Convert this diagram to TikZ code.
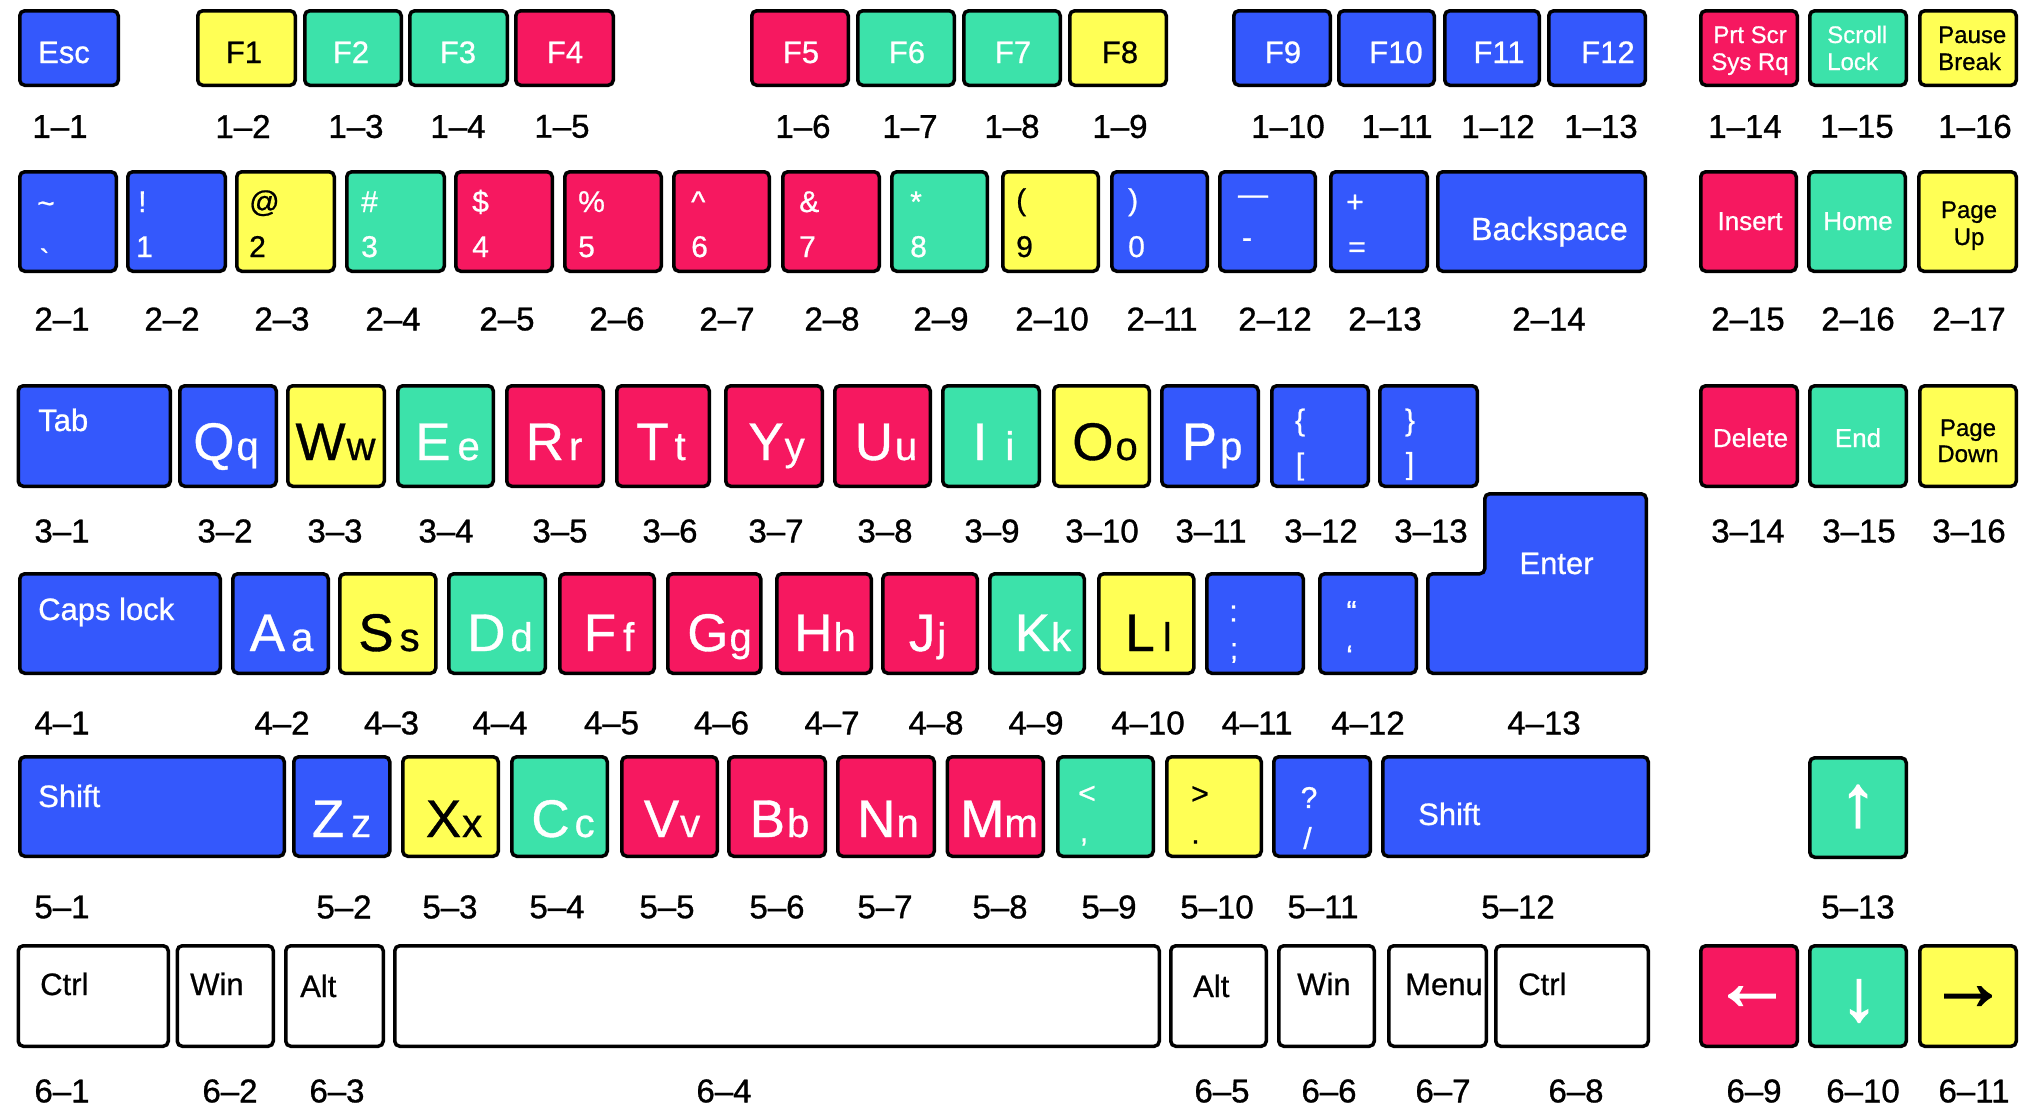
\documentclass[tikz,border=0pt]{standalone}
\usepackage{fontspec}
\setmainfont{Liberation Sans}[FakeBold=0.7]
\newfontfamily\rawf{Liberation Sans}[Ligatures=TeXOff,FakeBold=0.7]
\newfontfamily\labf{Liberation Sans}[FakeBold=0.9]
\newfontfamily\arrf{Liberation Sans}[FakeBold=2.2]
\definecolor{kblue}{RGB}{52,88,252}
\definecolor{kyellow}{RGB}{255,255,85}
\definecolor{kgreen}{RGB}{60,226,170}
\definecolor{kred}{RGB}{246,24,96}
\tikzset{
  keybox/.style={draw=black,line width=3.5pt,rounded corners=5pt,inner sep=0pt},
  txt/.style={inner sep=0pt,font=\fontsize{31}{31}\selectfont},
  wt/.style={text=white},
  bk/.style={text=black},
  sym/.style={font=\fontsize{30}{30}\selectfont},
  mid/.style={font=\fontsize{26}{26}\selectfont},
  sml/.style={font=\fontsize{24}{24}\selectfont},
  varrow/.style={font=\arrf\fontsize{72}{72}\selectfont},
  harrow/.style={font=\arrf\fontsize{78}{78}\selectfont},
  lab/.style={inner sep=0pt,anchor=center,font=\labf\fontsize{33}{33}\selectfont,text=black},
}
\newcommand\kbkey[6]{%
  \pgfmathsetmacro\kbw{#3-#2-3.5}%
  \pgfmathsetmacro\kbh{#5-#4-3.5}%
  \pgfmathsetmacro\kbx{(#2+#3)/2}%
  \pgfmathsetmacro\kby{(#4+#5)/2}%
  \node[keybox,fill=#6,minimum width=\kbw pt,minimum height=\kbh pt] (#1) at (\kbx,\kby) {};}
\newcommand\kbt[6]{\node[txt,anchor=#4,#5] (#1) at (#2,#3) {#6};}
\newcommand\kbl[4]{\node[lab] (#1) at (#2,#3) {#4};}
\newcommand\kbletter[7]{\node[txt,anchor=base,#7] (#1) at (#2,#3) {\fontsize{53}{53}\selectfont #4\kern#5pt\fontsize{40}{40}\selectfont #6};}
\begin{document}
\begin{tikzpicture}[x=1pt,y=-1pt]
\fill[white] (0,0) rectangle (2035,1117);
\useasboundingbox (0,0) rectangle (2035,1117);
% ---------- row 1
\kbkey{kA1}{18}{120}{9}{87}{kblue}\kbt{tA1}{64}{63}{base}{wt}{Esc}
\kbkey{kA2}{196}{297}{9}{87}{kyellow}\kbt{tA2}{244}{63}{base}{bk}{F1}
\kbkey{kA3}{303}{403}{9}{87}{kgreen}\kbt{tA3}{351}{63}{base}{wt}{F2}
\kbkey{kA4}{408}{509}{9}{87}{kgreen}\kbt{tA4}{458}{63}{base}{wt}{F3}
\kbkey{kA5}{514}{615}{9}{87}{kred}\kbt{tA5}{565}{63}{base}{wt}{F4}
\kbkey{kA6}{750}{850}{9}{87}{kred}\kbt{tA6}{801}{63}{base}{wt}{F5}
\kbkey{kA7}{856}{956}{9}{87}{kgreen}\kbt{tA7}{907}{63}{base}{wt}{F6}
\kbkey{kA8}{962}{1062}{9}{87}{kgreen}\kbt{tA8}{1013}{63}{base}{wt}{F7}
\kbkey{kA9}{1068}{1168}{9}{87}{kyellow}\kbt{tA9}{1120}{63}{base}{bk}{F8}
\kbkey{kA10}{1232}{1332}{9}{87}{kblue}\kbt{tA10}{1283}{63}{base}{wt}{F9}
\kbkey{kA11}{1337}{1436}{9}{87}{kblue}\kbt{tA11}{1396}{63}{base}{wt}{F10}
\kbkey{kA12}{1443}{1541}{9}{87}{kblue}\kbt{tA12}{1499}{63}{base}{wt}{F11}
\kbkey{kA13}{1547}{1647}{9}{87}{kblue}\kbt{tA13}{1608}{63}{base}{wt}{F12}
\kbkey{kA14}{1699}{1799}{9}{87}{kred}
\kbt{tA14a}{1750}{43}{base}{wt,sml}{Prt Scr}\kbt{tA14b}{1750}{70}{base}{wt,sml}{Sys Rq}
\kbkey{kA15}{1808}{1908}{9}{87}{kgreen}
\kbt{tA15a}{1827}{43}{base west}{wt,sml}{Scroll}\kbt{tA15b}{1827}{70}{base west}{wt,sml}{Lock}
\kbkey{kA16}{1918}{2018}{9}{87}{kyellow}
\kbt{tA16a}{1938}{43}{base west}{bk,sml}{Pause}\kbt{tA16b}{1938}{70}{base west}{bk,sml}{Break}
\kbl{lA1}{60}{126.5}{1–1}\kbl{lA2}{243}{126.5}{1–2}\kbl{lA3}{356}{126.5}{1–3}
\kbl{lA4}{458}{126.5}{1–4}\kbl{lA5}{562}{126.5}{1–5}\kbl{lA6}{803}{126.5}{1–6}
\kbl{lA7}{910}{126.5}{1–7}\kbl{lA8}{1012}{126.5}{1–8}\kbl{lA9}{1120}{126.5}{1–9}
\kbl{lA10}{1288}{126.5}{1–10}\kbl{lA11}{1397}{126.5}{1–11}\kbl{lA12}{1498}{126.5}{1–12}
\kbl{lA13}{1601}{126.5}{1–13}\kbl{lA14}{1745}{126.5}{1–14}\kbl{lA15}{1857}{126.5}{1–15}
\kbl{lA16}{1975}{126.5}{1–16}
% ---------- row 2
\kbkey{kB1}{18}{118}{170}{273}{kblue}
\node[txt,wt,sym,anchor=center] (tB1a) at (46,207.5) {\textasciitilde};
\node[txt,wt,sym,anchor=center] (tB1b) at (44.5,259.5) {\rawf\char"60};
\kbkey{kB2}{126}{227}{170}{273}{kblue}\kbt{tB2a}{138}{212}{base west}{wt,sym}{!}\kbt{tB2b}{136}{257}{base west}{wt,sym}{1}
\kbkey{kB3}{235}{336}{170}{273}{kyellow}\kbt{tB3a}{249}{212}{base west}{bk,sym}{@}\kbt{tB3b}{249}{257}{base west}{bk,sym}{2}
\kbkey{kB4}{345}{446}{170}{273}{kgreen}\kbt{tB4a}{361}{212}{base west}{wt,sym}{\#}\kbt{tB4b}{361}{257}{base west}{wt,sym}{3}
\kbkey{kB5}{454}{554}{170}{273}{kred}\kbt{tB5a}{472}{212}{base west}{wt,sym}{\$}\kbt{tB5b}{472}{257}{base west}{wt,sym}{4}
\kbkey{kB6}{563}{663}{170}{273}{kred}\kbt{tB6a}{578}{212}{base west}{wt,sym}{\%}\kbt{tB6b}{578}{257}{base west}{wt,sym}{5}
\kbkey{kB7}{672}{771}{170}{273}{kred}\kbt{tB7a}{691}{212}{base west}{wt,sym}{\textasciicircum}\kbt{tB7b}{691}{257}{base west}{wt,sym}{6}
\kbkey{kB8}{781}{881}{170}{273}{kred}\kbt{tB8a}{799}{212}{base west}{wt,sym}{\&}\kbt{tB8b}{799}{257}{base west}{wt,sym}{7}
\kbkey{kB9}{890}{989}{170}{273}{kgreen}\kbt{tB9a}{910}{212}{base west}{wt,sym}{*}\kbt{tB9b}{910}{257}{base west}{wt,sym}{8}
\kbkey{kB10}{1001}{1100}{170}{273}{kyellow}\kbt{tB10a}{1016}{210}{base west}{bk,sym}{(}\kbt{tB10b}{1016}{257}{base west}{bk,sym}{9}
\kbkey{kB11}{1110}{1209}{170}{273}{kblue}\kbt{tB11a}{1128}{210}{base west}{wt,sym}{)}\kbt{tB11b}{1128}{257}{base west}{wt,sym}{0}
\kbkey{kB12}{1218}{1317}{170}{273}{kblue}
\node[txt,wt,sym,anchor=center] (tB12a) at (1253,200) {—};
\node[txt,wt,sym,anchor=center] (tB12b) at (1247,243) {-};
\kbkey{kB13}{1329}{1429}{170}{273}{kblue}\kbt{tB13a}{1346}{212}{base west}{wt,sym}{+}\kbt{tB13b}{1348}{257}{base west}{wt,sym}{=}
\kbkey{kB14}{1436}{1647}{170}{273}{kblue}\kbt{tB14}{1471}{240}{base west}{wt}{\fontsize{32}{32}\selectfont Backspace}
\kbkey{kB15}{1699}{1798}{170}{273}{kred}\kbt{tB15}{1750}{230}{base}{wt,mid}{Insert}
\kbkey{kB16}{1807}{1907}{170}{273}{kgreen}\kbt{tB16}{1858}{230}{base}{wt,mid}{Home}
\kbkey{kB17}{1917}{2018}{170}{273}{kyellow}\kbt{tB17a}{1969}{218}{base}{bk,sml}{Page}\kbt{tB17b}{1969}{245}{base}{bk,sml}{Up}
\kbl{lB1}{62}{319}{2–1}\kbl{lB2}{172}{319}{2–2}\kbl{lB3}{282}{319}{2–3}
\kbl{lB4}{393}{319}{2–4}\kbl{lB5}{507}{319}{2–5}\kbl{lB6}{617}{319}{2–6}
\kbl{lB7}{727}{319}{2–7}\kbl{lB8}{832}{319}{2–8}\kbl{lB9}{941}{319}{2–9}
\kbl{lB10}{1052}{319}{2–10}\kbl{lB11}{1162}{319}{2–11}\kbl{lB12}{1275}{319}{2–12}
\kbl{lB13}{1385}{319}{2–13}\kbl{lB14}{1549}{319}{2–14}\kbl{lB15}{1748}{319}{2–15}
\kbl{lB16}{1858}{319}{2–16}\kbl{lB17}{1969}{319}{2–17}
% ---------- row 3
\kbkey{kC1}{16.5}{172}{384}{488}{kblue}\kbt{tC1}{38}{431}{base west}{wt}{Tab}
\kbkey{kC2}{178}{278}{384}{488}{kblue}\kbletter{tC2}{226}{460}{Q}{2}{q}{wt}
\kbkey{kC3}{286}{386}{384}{488}{kyellow}\kbletter{tC3}{335.5}{460}{W}{1}{w}{bk}
\kbkey{kC4}{396}{495}{384}{488}{kgreen}\kbletter{tC4}{447.5}{460}{E}{7}{e}{wt}
\kbkey{kC5}{505}{605}{384}{488}{kred}\kbletter{tC5}{554}{460}{R}{5}{r}{wt}
\kbkey{kC6}{615}{711}{384}{488}{kred}\kbletter{tC6}{661}{460}{T}{6}{t}{wt}
\kbkey{kC7}{724}{824}{384}{488}{kred}\kbletter{tC7}{776.5}{460}{Y}{1}{y}{wt}
\kbkey{kC8}{833}{932}{384}{488}{kred}\kbletter{tC8}{886}{460}{U}{2}{u}{wt}
\kbkey{kC9}{941}{1041}{384}{488}{kgreen}\kbletter{tC9}{993.5}{460}{I}{18}{i}{wt}
\kbkey{kC10}{1052}{1151}{384}{488}{kyellow}\kbletter{tC10}{1105}{460}{O}{2}{o}{bk}
\kbkey{kC11}{1160}{1260}{384}{488}{kblue}\kbletter{tC11}{1212}{460}{P}{3}{p}{wt}
\kbkey{kC12}{1270}{1370}{384}{488}{kblue}
\node[txt,wt,sym,anchor=center] (tC12a) at (1300,422.5) {\{};
\node[txt,wt,sym,anchor=center] (tC12b) at (1300,466.5) {[};
\kbkey{kC13}{1378}{1479}{384}{488}{kblue}
\node[txt,wt,sym,anchor=center] (tC13a) at (1410,422.5) {\}};
\node[txt,wt,sym,anchor=center] (tC13b) at (1410,466) {]};
\kbkey{kC14}{1699}{1799}{384}{488}{kred}\kbt{tC14}{1750.5}{447}{base}{wt,mid}{Delete}
\kbkey{kC15}{1808}{1908}{384}{488}{kgreen}\kbt{tC15}{1858}{447}{base}{wt,mid}{End}
\kbkey{kC16}{1918}{2018}{384}{488}{kyellow}\kbt{tC16a}{1968}{436}{base}{bk,sml}{Page}\kbt{tC16b}{1968}{462}{base}{bk,sml}{Down}
\kbl{lC1}{62}{531}{3–1}\kbl{lC2}{225}{531}{3–2}\kbl{lC3}{335}{531}{3–3}
\kbl{lC4}{446}{531}{3–4}\kbl{lC5}{560}{531}{3–5}\kbl{lC6}{670}{531}{3–6}
\kbl{lC7}{776}{531}{3–7}\kbl{lC8}{885}{531}{3–8}\kbl{lC9}{992}{531}{3–9}
\kbl{lC10}{1102}{531}{3–10}\kbl{lC11}{1211}{531}{3–11}\kbl{lC12}{1321}{531}{3–12}
\kbl{lC13}{1431}{531}{3–13}\kbl{lC14}{1748}{531}{3–14}\kbl{lC15}{1859}{531}{3–15}
\kbl{lC16}{1969}{531}{3–16}
% ---------- row 4
\kbkey{kD1}{18}{222}{572}{675}{kblue}\kbt{tD1}{38}{620}{base west}{wt}{Caps lock}
\kbkey{kD2}{231}{330}{572}{675}{kblue}\kbletter{tD2}{281.5}{651}{A}{6}{a}{wt}
\kbkey{kD3}{338}{437.5}{572}{675}{kyellow}\kbletter{tD3}{389}{651}{S}{6}{s}{bk}
\kbkey{kD4}{447}{547}{572}{675}{kgreen}\kbletter{tD4}{500}{651}{D}{5}{d}{wt}
\kbkey{kD5}{558}{656}{572}{675}{kred}\kbletter{tD5}{609}{651}{F}{7}{f}{wt}
\kbkey{kD6}{666}{762.5}{572}{675}{kred}\kbletter{tD6}{719.5}{651}{G}{1}{g}{wt}
\kbkey{kD7}{775}{873}{572}{675}{kred}\kbletter{tD7}{825}{651}{H}{1}{h}{wt}
\kbkey{kD8}{881}{979}{572}{675}{kred}\kbletter{tD8}{927.5}{651}{J}{2}{j}{wt}
\kbkey{kD9}{988}{1086}{572}{675}{kgreen}\kbletter{tD9}{1043}{651}{K}{1}{k}{wt}
\kbkey{kD10}{1097}{1195.5}{572}{675}{kyellow}\kbletter{tD10}{1148.5}{651}{L}{8}{l}{bk}
\kbkey{kD11}{1205}{1305}{572}{675}{kblue}
\node[txt,wt,sym,anchor=center] (tD11a) at (1233.5,613.5) {:};
\node[txt,wt,sym,anchor=center] (tD11b) at (1234,653) {;};
\kbkey{kD12}{1318}{1418}{572}{675}{kblue}
\node[txt,wt,sym,anchor=center] (tD12a) at (1351.5,611.5) {“};
\node[txt,wt,sym,anchor=center] (tD12b) at (1349.5,656) {‘};
\draw[line width=3.5pt,rounded corners=5pt,fill=kblue] (1484.75,493.75) -- (1646.25,493.75) -- (1646.25,673.25) -- (1427.75,673.25) -- (1427.75,573.75) -- (1484.75,573.75) -- cycle;
\coordinate (kD13) at (1556,583);
\kbt{tD13}{1556.5}{574}{base}{wt}{Enter}
\kbl{lD1}{62}{723}{4–1}\kbl{lD2}{282}{723}{4–2}\kbl{lD3}{391.5}{723}{4–3}
\kbl{lD4}{500}{723}{4–4}\kbl{lD5}{611.5}{723}{4–5}\kbl{lD6}{721.5}{723}{4–6}
\kbl{lD7}{832}{723}{4–7}\kbl{lD8}{936}{723}{4–8}\kbl{lD9}{1036}{723}{4–9}
\kbl{lD10}{1148}{723}{4–10}\kbl{lD11}{1257}{723}{4–11}\kbl{lD12}{1368}{723}{4–12}
\kbl{lD13}{1544}{723}{4–13}
% ---------- row 5
\kbkey{kE1}{18}{286}{755}{858}{kblue}\kbt{tE1}{38}{807}{base west}{wt}{Shift}
\kbkey{kE2}{292}{391.5}{755}{858}{kblue}\kbletter{tE2}{341.5}{837}{Z}{7}{z}{wt}
\kbkey{kE3}{401}{500}{755}{858}{kyellow}\kbletter{tE3}{454}{837}{X}{1}{x}{bk}
\kbkey{kE4}{510}{609}{755}{858}{kgreen}\kbletter{tE4}{563}{837}{C}{5}{c}{wt}
\kbkey{kE5}{620}{719}{755}{858}{kred}\kbletter{tE5}{672}{837}{V}{1}{v}{wt}
\kbkey{kE6}{727}{827}{755}{858}{kred}\kbletter{tE6}{779.5}{837}{B}{2}{b}{wt}
\kbkey{kE7}{836}{936}{755}{858}{kred}\kbletter{tE7}{888}{837}{N}{1}{n}{wt}
\kbkey{kE8}{945.5}{1045}{755}{858}{kred}\kbletter{tE8}{999}{837}{M}{0}{m}{wt}
\kbkey{kE9}{1056}{1155}{755}{858}{kgreen}
\node[txt,wt,sym,anchor=center] (tE9a) at (1087,794.5) {<};
\node[txt,wt,sym,anchor=center] (tE9b) at (1084,842) {,};
\kbkey{kE10}{1165}{1263}{755}{858}{kyellow}
\node[txt,bk,sym,anchor=center] (tE10a) at (1200,795) {>};
\node[txt,bk,sym,anchor=center] (tE10b) at (1195.5,842) {.};
\kbkey{kE11}{1272}{1372}{755}{858}{kblue}
\node[txt,wt,sym,anchor=center] (tE11a) at (1309,797.5) {?};
\node[txt,wt,sym,anchor=center] (tE11b) at (1307.5,838) {/};
\kbkey{kE12}{1381}{1650}{755}{858}{kblue}\kbt{tE12}{1418}{825}{base west}{wt}{Shift}
\kbkey{kE13}{1808}{1908}{756}{859}{kgreen}
\node[txt,wt,varrow,anchor=center] (tE13) at (1858,806.5) {↑};
\kbl{lE1}{62}{907}{5–1}\kbl{lE2}{344}{907}{5–2}\kbl{lE3}{450}{907}{5–3}
\kbl{lE4}{557}{907}{5–4}\kbl{lE5}{667}{907}{5–5}\kbl{lE6}{777}{907}{5–6}
\kbl{lE7}{885}{907}{5–7}\kbl{lE8}{1000}{907}{5–8}\kbl{lE9}{1109}{907}{5–9}
\kbl{lE10}{1217}{907}{5–10}\kbl{lE11}{1323}{907}{5–11}\kbl{lE12}{1518}{907}{5–12}
\kbl{lE13}{1858}{907}{5–13}
% ---------- row 6
\kbkey{kF1}{16.5}{170}{944}{1048}{white}\kbt{tF1}{40}{995}{base west}{bk}{Ctrl}
\kbkey{kF2}{175.5}{275}{944}{1048}{white}\kbt{tF2}{190}{995}{base west}{bk}{Win}
\kbkey{kF3}{284}{385}{944}{1048}{white}\kbt{tF3}{300}{997}{base west}{bk}{Alt}
\kbkey{kF4}{393}{1161}{944}{1048}{white}
\kbkey{kF5}{1169}{1268}{944}{1048}{white}\kbt{tF5}{1193}{997}{base west}{bk}{Alt}
\kbkey{kF6}{1277}{1376}{944}{1048}{white}\kbt{tF6}{1297}{995}{base west}{bk}{Win}
\kbkey{kF7}{1387}{1488}{944}{1048}{white}\kbt{tF7}{1405}{995}{base west}{bk}{Menu}
\kbkey{kF8}{1494}{1650}{944}{1048}{white}\kbt{tF8}{1518}{995}{base west}{bk}{Ctrl}
\kbkey{kF9}{1699}{1799}{944}{1048}{kred}
\node[txt,wt,harrow,anchor=center] (tF9) at (1752,998) {←};
\kbkey{kF10}{1808}{1908}{944}{1048}{kgreen}
\node[txt,wt,varrow,anchor=center] (tF10) at (1859,1001) {↓};
\kbkey{kF11}{1918}{2018}{944}{1048}{kyellow}
\node[txt,bk,harrow,anchor=center] (tF11) at (1968,998) {→};
\kbl{lF1}{62}{1091}{6–1}\kbl{lF2}{230}{1091}{6–2}\kbl{lF3}{337}{1091}{6–3}
\kbl{lF4}{724}{1091}{6–4}\kbl{lF5}{1222}{1091}{6–5}\kbl{lF6}{1329}{1091}{6–6}
\kbl{lF7}{1443}{1091}{6–7}\kbl{lF8}{1576}{1091}{6–8}\kbl{lF9}{1754}{1091}{6–9}
\kbl{lF10}{1863}{1091}{6–10}\kbl{lF11}{1974}{1091}{6–11}
\end{tikzpicture}
\end{document}
